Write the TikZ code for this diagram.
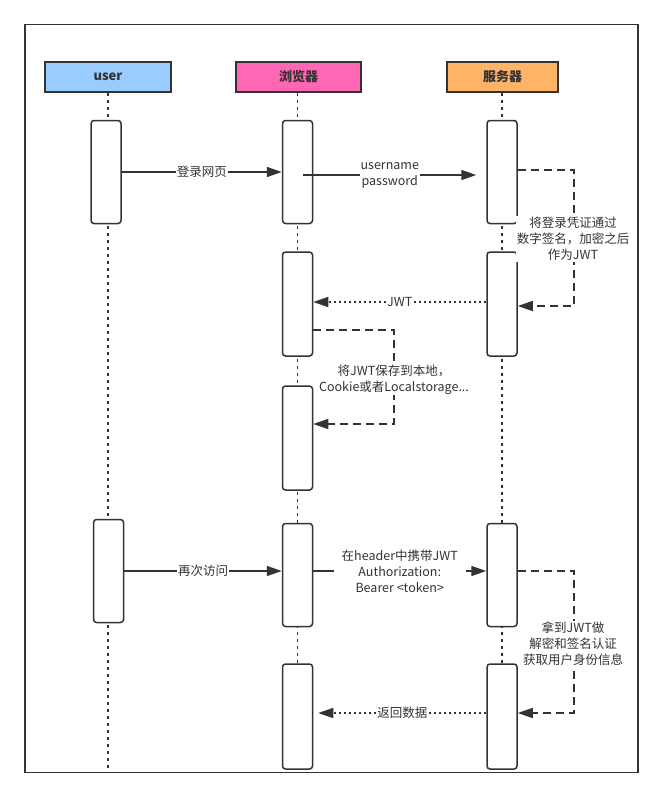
\documentclass[tikz,border=0pt]{standalone}
\usepackage{fontspec}
\setmainfont{Noto Sans CJK SC}
\usetikzlibrary{arrows.meta,calc}
\definecolor{userc}{HTML}{99CCFF}
\definecolor{browc}{HTML}{FF66B3}
\definecolor{servc}{HTML}{FFB366}
\definecolor{ink}{HTML}{333333}
\begin{document}
\begin{tikzpicture}[x=1pt,y=-1pt,
  hdr/.style={draw=ink,line width=1.5pt,minimum height=30pt,inner sep=0pt,font=\fontsize{13}{15}\selectfont\bfseries,text=ink},
  act/.style={draw=ink,fill=white,line width=1.5pt,rounded corners=3pt,minimum width=30pt,inner sep=0pt},
  life/.style={draw=ink,line width=1.3pt,dash pattern=on 3pt off 4pt},
  tip/.style={-{Triangle[length=15pt,width=10pt]}},
  msg/.style={draw=ink,line width=1.6pt,tip},
  reply/.style={draw=ink,line width=1.5pt,dash pattern=on 2.5pt off 2.5pt,tip},
  selfm/.style={draw=ink,line width=1.6pt,dash pattern=on 8pt off 5pt,tip},
  lbl/.style={fill=white,inner sep=1pt,text=ink,align=center,font=\fontsize{12.5}{16}\selectfont},
]
\useasboundingbox (0,0) rectangle (664,798);
\node[draw=ink,line width=1.5pt,minimum width=613pt,minimum height=748pt,inner sep=0pt] (frame) at (331.5,398.5) {};

\node[hdr,fill=userc,minimum width=126pt] (hu) at (108,77) {user};
\node[hdr,fill=browc,minimum width=125pt] (hb) at (298.5,77) {浏览器};
\node[hdr,fill=servc,minimum width=111pt] (hs) at (502.5,77) {服务器};

\coordinate (ue) at (108,772);
\coordinate (be) at (297.5,772);
\coordinate (se) at (502,772);
\draw[life] (hu.south) -- (ue);
\draw[life] (hb.south -| be) -- (be);
\draw[life] (hs.south -| se) -- (se);

\node[act,minimum height=103pt] (u1) at (106,172) {};
\node[act,minimum height=103pt] (b1) at (297.5,172) {};
\node[act,minimum height=103pt] (s1) at (502,172) {};
\node[act,minimum height=104pt] (b2) at (297.5,304) {};
\node[act,minimum height=104pt] (s2) at (502,304) {};
\node[act,minimum height=104pt] (b3) at (297.5,438) {};
\node[act,minimum height=103pt] (u2) at (108.5,571) {};
\node[act,minimum height=103pt] (b4) at (297.5,575) {};
\node[act,minimum height=103pt] (s4) at (502,575) {};
\node[act,minimum height=105pt] (b5) at (297.5,716.5) {};
\node[act,minimum height=105pt] (s5) at (502,716.5) {};

% messages
\draw[msg] (u1.east) -- (b1.west) node[lbl,midway]{登录网页};
\draw[msg] ([xshift=-10pt,yshift=-3pt]b1.east) -- ([xshift=-10pt,yshift=-3pt]s1.west)
  node[lbl,midway]{username\\password};
\draw[selfm] ([yshift=2pt]s1.east) -- ++(56,0) |- ([yshift=-2pt]s2.east);
\node[lbl] (l3) at (573,239) {将登录凭证通过\\数字签名，加密之后\\作为JWT};
\draw[reply] ([yshift=2pt]s2.west) -- ([yshift=2pt]b2.east) node[lbl,midway]{JWT};
\draw[selfm] ([yshift=-26pt]b2.east) -- ++(81,0) |- ([yshift=14pt]b3.east);
\node[lbl] (l5) at (394,379.5) {将JWT保存到本地，\\Cookie或者Localstorage...};
\draw[msg] (u2.east) -- (u2.east -| b4.west) node[lbl,midway]{再次访问};
\draw[msg] ([yshift=4pt]b4.east) -- ([yshift=4pt]s4.west)
  node[lbl,midway,inner xsep=8pt]{在header中携带JWT\\Authorization:\\Bearer <token>};
\draw[selfm] ([yshift=4pt]s4.east) -- ++(56,0) |- ([yshift=3.5pt]s5.east);
\node[lbl] (l8) at (573,644) {拿到JWT做\\解密和签名认证\\获取用户身份信息};
\draw[reply] ([yshift=3.5pt]s5.west) -- ([xshift=5pt,yshift=3.5pt]b5.east) node[lbl,midway]{返回数据};
\end{tikzpicture}
\end{document}
